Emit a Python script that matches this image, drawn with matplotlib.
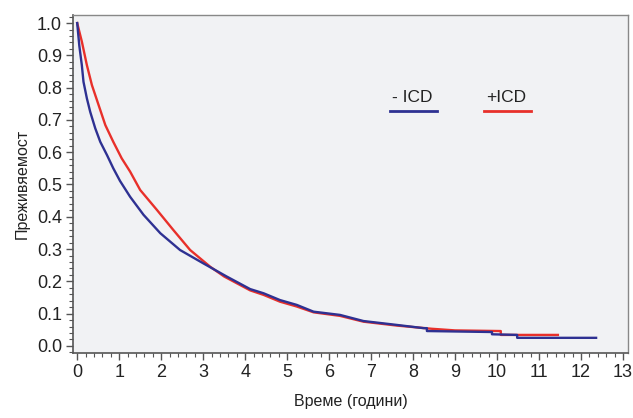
import matplotlib
matplotlib.use("Agg")
import matplotlib.pyplot as plt
from matplotlib.ticker import MultipleLocator

# Data
t_minus = [0.0, 0.05, 0.11, 0.15, 0.23, 0.31, 0.43, 0.55, 0.71, 0.86, 1.02, 1.26, 1.58, 1.98, 2.45,
           3.0, 3.56, 4.12, 4.44, 4.83, 5.23, 5.63, 6.26, 6.82, 7.61, 8.25, 8.33, 8.33, 9.88, 9.88,
           10.48, 10.48, 12.36]
s_minus = [1.0, 0.93, 0.87, 0.818, 0.767, 0.725, 0.674, 0.632, 0.591, 0.55, 0.511, 0.462, 0.406, 0.349, 0.297,
           0.256, 0.215, 0.176, 0.163, 0.142, 0.127, 0.106, 0.096, 0.077, 0.065, 0.055, 0.055, 0.046, 0.043, 0.036,
           0.034, 0.025, 0.025]
t_plus = [0.0, 0.11, 0.23, 0.35, 0.51, 0.67, 0.86, 1.06, 1.26, 1.5, 1.9, 2.29, 2.69, 3.17, 3.5,
          4.12, 4.44, 4.83, 5.23, 5.63, 6.26, 6.82, 7.61, 8.45, 9.0, 10.09, 10.09, 11.45]
s_plus = [1.0, 0.943, 0.87, 0.808, 0.746, 0.684, 0.632, 0.581, 0.54, 0.483, 0.421, 0.359, 0.297, 0.245, 0.215,
          0.172, 0.158, 0.137, 0.122, 0.104, 0.093, 0.075, 0.063, 0.053, 0.048, 0.046, 0.034, 0.034]

label_minus = "- ICD"
label_plus = "+ICD"
xlabel = "Време (години)"
ylabel = "Преживяемост"

blue = "#2e3192"
red = "#e8302a"

plt.rcParams['font.family'] = ['Liberation Sans', 'DejaVu Sans']

fig = plt.figure(figsize=(6.33, 4.18), dpi=100)
ax = fig.add_axes([73/633, 1-353/418, (628-73)/633, (353-15)/418])
ax.set_facecolor("#f1f2f4")

ax.plot(t_plus, s_plus, color=red, lw=1.7, solid_joinstyle='round')
ax.plot(t_minus, s_minus, color=blue, lw=1.7, solid_joinstyle='round')

ax.set_xlim(-0.1, 13.12)
ax.set_ylim(-0.022, 1.025)
ax.xaxis.set_major_locator(MultipleLocator(1))
ax.xaxis.set_minor_locator(MultipleLocator(0.2))
ax.yaxis.set_minor_locator(MultipleLocator(0.02))
ax.set_yticks([i/10 for i in range(11)])
ax.set_yticklabels([f"{i/10:.1f}" for i in range(11)])

ax.tick_params(which='major', length=5, width=1, color="#555555", labelsize=13, labelcolor="#222222", pad=3)
ax.tick_params(which='minor', length=3, width=0.8, color="#555555")
for s in ['left', 'bottom']:
    ax.spines[s].set_color("#555555")
    ax.spines[s].set_linewidth(1.2)
for s in ['top', 'right']:
    ax.spines[s].set_color("#888888")
    ax.spines[s].set_linewidth(1.0)

ax.set_xlabel(xlabel, fontsize=11.5, color="#222222", labelpad=9)
ax.set_ylabel(ylabel, fontsize=11.5, color="#222222", labelpad=5)

# legend-like annotations (text above line)
ax.plot([0.571, 0.655], [0.717, 0.717], transform=ax.transAxes, color=blue, lw=2)
ax.text(0.575, 0.735, label_minus, transform=ax.transAxes, fontsize=12.5, color="#222222", va='bottom', ha='left')
ax.plot([0.740, 0.826], [0.717, 0.717], transform=ax.transAxes, color=red, lw=2)
ax.text(0.745, 0.735, label_plus, transform=ax.transAxes, fontsize=12.5, color="#222222", va='bottom', ha='left')

fig.savefig("out.png", dpi=100)
